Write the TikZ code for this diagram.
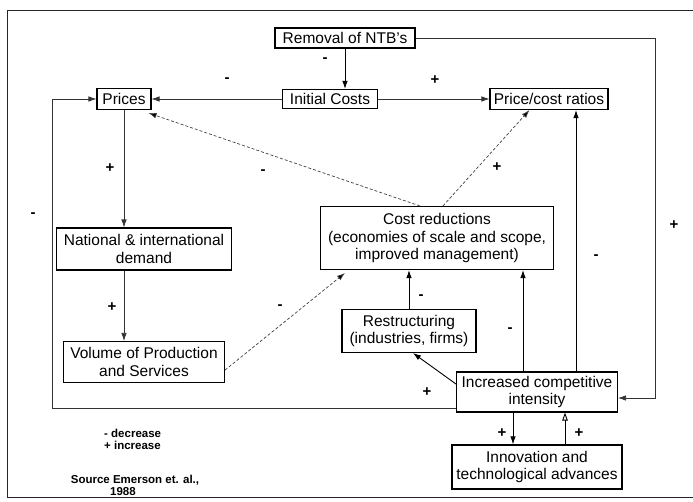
\documentclass[tikz,border=0pt]{standalone}
\usepackage{fontspec}
\setmainfont{Liberation Sans}
\usetikzlibrary{arrows.meta,calc}
\tikzset{
  box/.style={draw,line width=1.1pt,align=center,inner sep=0pt,
    font=\fontsize{15.5}{17.5}\selectfont},
  arr/.style={line width=0.9pt,-{Latex[length=8pt,width=5.5pt]}},
  faint/.style={line width=0.7pt,black!80,-{Latex[length=8pt,width=5.5pt]}},
  diag/.style={line width=0.7pt,black!75,densely dashed,-{Latex[length=8pt,width=5.5pt,fill=black]}},
  openarr/.style={line width=0.9pt,-{Triangle[open,length=8pt,width=5.5pt]}},
  sgn/.style={font=\bfseries\fontsize{15}{15}\selectfont,inner sep=0pt},
  legend/.style={font=\bfseries\fontsize{11.5}{13}\selectfont,inner sep=0pt,anchor=west},
  frame/.style={line width=0.8pt,black!85}
}
\begin{document}
\begin{tikzpicture}[x=1pt,y=-1pt]
\useasboundingbox (0,0) rectangle (693,502);
% frame
\draw[frame] (693,10) -- (7,10) -- (7,497) -- (693,497);
% boxes
\node[box,minimum width=140pt,minimum height=20pt] (rem) at (345,38) {Removal of NTB's};
\node[box,minimum width=95pt,minimum height=19pt] (ic) at (330,99) {Initial Costs};
\node[box,minimum width=54pt,minimum height=21pt] (pr) at (124,99) {Prices};
\node[box,minimum width=118pt,minimum height=21pt] (pcr) at (549,99) {Price/cost ratios};
\node[box,minimum width=175pt,minimum height=42pt] (nat) at (144,249) {National \& international\\demand};
\node[box,minimum width=161pt,minimum height=41pt] (vol) at (144,362) {Volume of Production\\and Services};
\node[box,minimum width=233pt,minimum height=63pt] (cost) at (437,238) {Cost reductions\\(economies of scale and scope,\\improved management)};
\node[box,minimum width=134pt,minimum height=43pt] (res) at (409,331) {Restructuring\\(industries, firms)};
\node[box,minimum width=161pt,minimum height=40pt] (inc) at (537,392) {Increased competitive\\intensity};
\node[box,minimum width=170pt,minimum height=44pt] (inn) at (537,467) {Innovation and\\technological advances};
% helper coordinates
\coordinate (rc) at (655,398);
\coordinate (lb) at (52,408);
\coordinate (i1) at ([xshift=-14pt]inc.north);
\coordinate (i2) at ([xshift=39pt]inc.north);
\coordinate (i3) at ([xshift=-24pt]inc.south);
\coordinate (i4) at ([xshift=28pt]inn.north);
\coordinate (vs) at ([yshift=-8pt]vol.east);
\coordinate (ct) at (345,273);
\coordinate (c1) at ([xshift=100pt]cost.north west);
\coordinate (c2) at ([xshift=123pt]cost.north west);
\coordinate (p1) at ([xshift=-3pt,yshift=-3pt]pr.south east);
\coordinate (p2) at ([xshift=40pt]pcr.south west);
\coordinate (iw) at ([yshift=8pt]inc.west);
\coordinate (rs) at ([xshift=4pt]res.south);
% connectors
\draw[arr] (rem.south) -- (rem.south |- ic.north);
\draw[faint] (ic.west) -- (pr.east);
\draw[faint] (ic.east) -- (pcr.west);
\draw[faint] (rem.east) -| (rc) -- (rc -| inc.east);
\draw[faint] (lb -| inc.west) -- (lb) |- (pr.west);
\draw[faint] (pr.south) -- (pr.south |- nat.north);
\draw[faint] (nat.south -| pr.south) -- (vol.north -| pr.south);
\draw[diag] (vs) -- (ct);
\draw[diag] (c1) -- (p1);
\draw[diag] (c2) -- (p2);
\draw[arr] (res.north) -- (res.north |- cost.south);
\draw[arr] (i1) -- (i1 |- cost.south);
\draw[arr] (i2) -- (i2 |- pcr.south);
\draw[arr] (iw) -- (rs);
\draw[arr] (i3) -- (i3 |- inn.north);
\draw[openarr] (i4) -- (i4 |- inc.south);
% signs
\node[sgn] (s1) at (325,60) {-};
\node[sgn] (s2) at (227,80) {-};
\node[sgn] (s3) at (435,80) {+};
\node[sgn] (s4) at (674,225) {+};
\node[sgn] (s5) at (33,215) {-};
\node[sgn] (s6) at (427,392) {+};
\node[sgn] (s7) at (110,168) {+};
\node[sgn] (s8) at (112,307) {+};
\node[sgn] (s9) at (280,307) {-};
\node[sgn] (s10) at (263,172) {-};
\node[sgn] (s11) at (497,167) {+};
\node[sgn] (s12) at (421,297) {-};
\node[sgn] (s13) at (510,330) {-};
\node[sgn] (s14) at (596,257) {-};
\node[sgn] (s15) at (502,433) {+};
\node[sgn] (s16) at (579,433) {+};
% legend
\node[legend] (l1) at (104,433) {- decrease};
\node[legend] (l2) at (104,445) {+ increase};
\node[legend,anchor=center] (src) at (135,480) {Source Emerson et. al.,};
\node[legend,anchor=center] (yr) at (123,492) {1988};
\end{tikzpicture}
\end{document}
